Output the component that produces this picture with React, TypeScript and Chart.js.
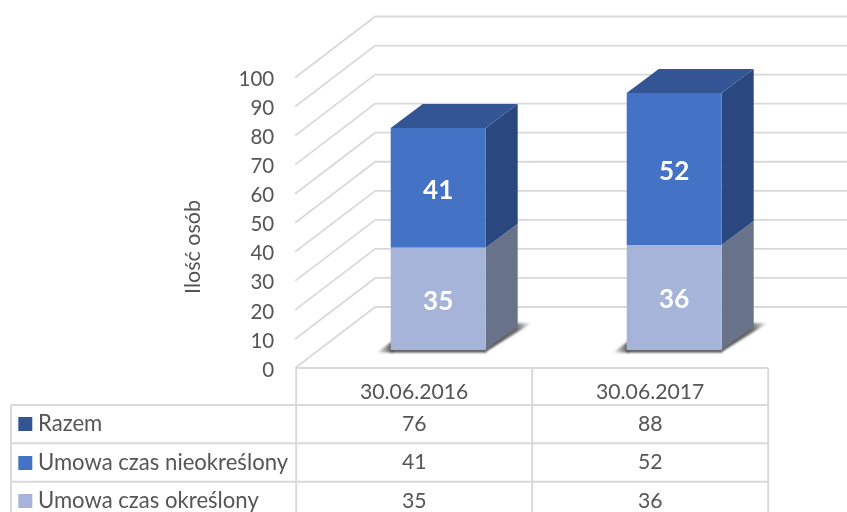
import React, { useEffect, useRef } from "react";
import { Chart, registerables } from "chart.js";

Chart.register(...registerables);

const categories = ["30.06.2016", "30.06.2017"];
const razem = [76, 88];
const czasNieokreslony = [41, 52];
const czasOkreslony = [35, 36];
const yTickMax = 100;
const yTickStep = 10;
const axisTitle = "Ilość osób";

const FONT = "Lato, Carlito, 'Open Sans', sans-serif";
const TEXT = "#555555";
const GRID = "#d9d9d9";
const COL_RAZEM = "#335593";
const COL_NIE = "#4472C4";
const COL_OKR = "#A6B4DA";
const SIDE: Record<string, string> = {
  "Umowa czas nieokreślony": "#2A477F",
  "Umowa czas określony": "#687389",
};

// oblique projection offsets
const BAR_DX = 32;
const BAR_DY = 24;
const WALL_DX = 80;
const WALL_DY = 61;
const FRONT_DX = 24; // bars plane -> front plane
const LABEL_SHIFT = 2; // tick text sits this far under its gridline

const threeD = {
  id: "threeD",
  beforeDatasetsDraw(chart: any) {
    const { ctx, scales, chartArea, width } = chart;
    const y = scales.y;
    const x0 = chartArea.left - FRONT_DX - 1;
    ctx.save();
    ctx.strokeStyle = GRID;
    ctx.lineWidth = 1.8;
    for (let v = 0; v <= yTickMax; v += yTickStep) {
      const py = y.getPixelForValue(v) - LABEL_SHIFT;
      ctx.beginPath();
      ctx.moveTo(x0, py);
      ctx.lineTo(x0 + WALL_DX, py - WALL_DY);
      ctx.lineTo(width, py - WALL_DY);
      ctx.stroke();
    }
    // bar floor shadows
    const first = chart.getDatasetMeta(0).data;
    first.forEach((el: any) => {
      const L = el.x - el.width / 2;
      const R = el.x + el.width / 2;
      const B = el.base;
      ctx.save();
      ctx.filter = "blur(0.8px)";
      const gl = ctx.createLinearGradient(L - 14, 0, L + 2, 0);
      gl.addColorStop(0, "rgba(70,70,70,0)");
      gl.addColorStop(1, "rgba(70,70,70,0.95)");
      ctx.fillStyle = gl;
      ctx.beginPath();
      ctx.moveTo(L - 14, B + 2.5);
      ctx.lineTo(L + 2, B - 9);
      ctx.lineTo(L + 2, B + 2.5);
      ctx.closePath();
      ctx.fill();
      ctx.fillStyle = "rgba(70,70,70,0.95)";
      ctx.fillRect(L, B - 1, el.width, 3.5);
      const gr = ctx.createLinearGradient(R, B, R + BAR_DX + 14, B - BAR_DY - 3);
      gr.addColorStop(0, "rgba(70,70,70,0.95)");
      gr.addColorStop(0.7, "rgba(70,70,70,0.8)");
      gr.addColorStop(1, "rgba(70,70,70,0)");
      ctx.fillStyle = gr;
      ctx.beginPath();
      ctx.moveTo(R - 1, B + 2.5);
      ctx.lineTo(R + BAR_DX + 14, B - BAR_DY - 3);
      ctx.lineTo(R + BAR_DX - 2, B - BAR_DY - 3);
      ctx.lineTo(R - 1, B - 2);
      ctx.closePath();
      ctx.fill();
      ctx.restore();
    });
    // side and top faces
    chart.data.datasets.forEach((ds: any, i: number) => {
      if (ds.hidden) return;
      chart.getDatasetMeta(i).data.forEach((el: any) => {
        const R = el.x + el.width / 2;
        ctx.fillStyle = SIDE[ds.label];
        ctx.beginPath();
        ctx.moveTo(R, el.base);
        ctx.lineTo(R + BAR_DX, el.base - BAR_DY);
        ctx.lineTo(R + BAR_DX, el.y - BAR_DY);
        ctx.lineTo(R, el.y);
        ctx.closePath();
        ctx.fill();
      });
    });
    chart.getDatasetMeta(1).data.forEach((el: any) => {
      const L = el.x - el.width / 2;
      const R = el.x + el.width / 2;
      ctx.fillStyle = COL_RAZEM;
      ctx.beginPath();
      ctx.moveTo(L, el.y);
      ctx.lineTo(L + BAR_DX, el.y - BAR_DY);
      ctx.lineTo(R + BAR_DX, el.y - BAR_DY);
      ctx.lineTo(R, el.y);
      ctx.closePath();
      ctx.fill();
    });
    ctx.restore();
  },
  afterDatasetsDraw(chart: any) {
    const { ctx, chartArea, scales } = chart;
    ctx.save();
    // value labels on the front faces
    ctx.font = `bold 26px ${FONT}`;
    ctx.fillStyle = "#ffffff";
    ctx.textAlign = "center";
    ctx.textBaseline = "middle";
    chart.data.datasets.forEach((ds: any, i: number) => {
      if (ds.hidden) return;
      chart.getDatasetMeta(i).data.forEach((el: any, j: number) => {
        ctx.fillText(String(ds.data[j]), el.x, (el.y + el.base) / 2 + 2.5);
      });
    });

    // axis title
    ctx.save();
    ctx.translate(193, 247);
    ctx.rotate(-Math.PI / 2);
    ctx.font = `21.5px ${FONT}`;
    ctx.fillStyle = TEXT;
    ctx.fillText(axisTitle, 0, 0);
    ctx.restore();

    // data table
    const xs = scales.x;
    const colW = xs.getPixelForValue(1) - xs.getPixelForValue(0);
    const left = chartArea.left - FRONT_DX;
    const right = left + colW * categories.length;
    const tableTop = scales.y.getPixelForValue(0) - LABEL_SHIFT;
    const labelLeft = 11;
    const rowLines = [405, 443.3, 481.7];
    const rowCenters = [424, 462.5, 501];
    const rows = [...chart.data.datasets].reverse();

    ctx.strokeStyle = GRID;
    ctx.lineWidth = 2;
    const line = (a: number, b: number, c: number, d: number) => {
      ctx.beginPath();
      ctx.moveTo(a, b);
      ctx.lineTo(c, d);
      ctx.stroke();
    };
    line(left, tableTop, right, tableTop);
    rowLines.forEach((ry) => line(labelLeft, ry, right, ry));
    line(labelLeft, rowLines[0], labelLeft, 512);
    for (let c = 0; c <= categories.length; c++) {
      line(left + c * colW, tableTop, left + c * colW, 512);
    }

    ctx.font = `21.2px ${FONT}`;
    ctx.fillStyle = TEXT;
    categories.forEach((cat, c) => {
      ctx.fillText(cat, left + (c + 0.5) * colW, 392.5);
    });
    rows.forEach((ds: any, r: number) => {
      const cy = rowCenters[r];
      ctx.fillStyle = ds.backgroundColor;
      ctx.fillRect(18.3, Math.round(cy - 7), 14, 14);
      ctx.fillStyle = TEXT;
      ctx.textAlign = "left";
      ctx.font = `22.1px ${FONT}`;
      ctx.fillText(ds.label, 38, cy);
      ctx.textAlign = "center";
      ctx.font = `21.2px ${FONT}`;
      ds.data.forEach((v: number, c: number) => {
        ctx.fillText(String(v), left + (c + 0.5) * colW, cy);
      });
    });
    ctx.restore();
  },
};

export default function App() {
  const ref = useRef<HTMLCanvasElement>(null);
  useEffect(() => {
    const chart = new Chart(ref.current as HTMLCanvasElement, {
      type: "bar",
      data: {
        labels: categories,
        datasets: [
          { label: "Umowa czas określony", data: czasOkreslony, backgroundColor: COL_OKR, yAxisID: "y2" },
          { label: "Umowa czas nieokreślony", data: czasNieokreslony, backgroundColor: COL_NIE, yAxisID: "y2" },
          { label: "Razem", data: razem, backgroundColor: COL_RAZEM, yAxisID: "y2", hidden: true },
        ],
      },
      options: {
        animation: false,
        responsive: false,
        layout: { padding: { left: 0, top: 79.5, right: 54.8, bottom: 142 } },
        datasets: { bar: { barPercentage: 95 / 236, categoryPercentage: 1 } },
        plugins: { legend: { display: false }, tooltip: { enabled: false }, title: { display: false } },
        scales: {
          x: { display: false, stacked: true },
          y: {
            position: "left",
            min: 0,
            max: yTickMax,
            grid: { display: false, drawTicks: false },
            border: { display: false },
            afterFit: (s: any) => {
              s.width = 320.2;
            },
            ticks: {
              stepSize: yTickStep,
              autoSkip: false,
              padding: 46,
              color: TEXT,
              font: { family: FONT, size: 20.5 },
            },
          },
          y2: { display: false, stacked: true, position: "left", min: -6.85, max: 92.64 },
        },
      },
      plugins: [threeD],
    } as any);
    return () => chart.destroy();
  }, []);
  return (
    <div style={{ position: "absolute", left: 0, top: 0, width: 847, height: 512, background: "#fff", overflow: "hidden" }}>
      <canvas ref={ref} width={847} height={512} style={{ display: "block" }} />
    </div>
  );
}
